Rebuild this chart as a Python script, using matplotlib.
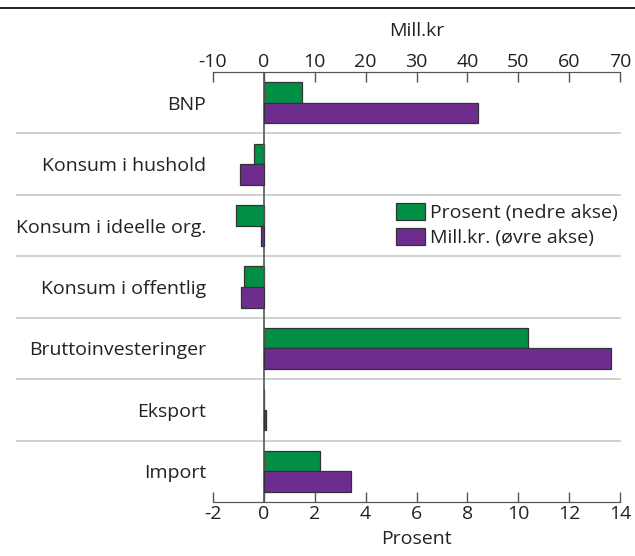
import matplotlib.pyplot as plt
from matplotlib.lines import Line2D
from matplotlib.patches import Patch

plt.rcParams['font.family'] = ['Open Sans', 'DejaVu Sans']
plt.rcParams['font.size'] = 14
plt.rcParams['axes.unicode_minus'] = False

categories = ["BNP", "Konsum i hushold", "Konsum i ideelle org.", "Konsum i offentlig",
              "Bruttoinvesteringer", "Eksport", "Import"]
prosent = [1.5, -0.4, -1.1, -0.8, 10.4, 0.02, 2.2]
mill_kr = [42.1, -4.7, -0.6, -4.5, 68.2, 0.5, 17.1]

green = "#008f45"
purple = "#6f2c8f"
txt = "#222222"

fig = plt.figure(figsize=(6.35, 5.56), dpi=100)
ax = fig.add_axes([213/635, 1-502/556, 407/635, 430/556])
ax2 = ax.twiny()

y = list(range(len(categories)))
h = 0.335
ax.barh([i - h/2 for i in y], prosent, height=h, color=green, edgecolor="#333333", linewidth=0.9, zorder=3)
ax2.barh([i + h/2 for i in y], mill_kr, height=h, color=purple, edgecolor="#333333", linewidth=0.9, zorder=3)

ax.set_xlim(-2, 14)
ax2.set_xlim(-10, 70)
ax.set_ylim(len(categories) - 0.5, -0.5)

ax.set_xticks(range(-2, 15, 2))
ax2.set_xticks(range(-10, 71, 10))
ax.set_yticks(y)
ax.set_yticklabels(categories, color=txt)
ax.tick_params(axis='y', length=0, pad=5)
ax.tick_params(axis='x', direction='in', length=7, width=1, color='#555555', labelcolor=txt, pad=2)
ax2.tick_params(axis='x', direction='in', length=7, width=1, color='#555555', labelcolor=txt, pad=1)

for a in (ax, ax2):
    a.spines['left'].set_visible(False)
    a.spines['right'].set_visible(False)
    a.spines['top'].set_color('#555555')
    a.spines['bottom'].set_color('#555555')

for i in range(len(categories) - 1):
    ax.axhline(i + 0.5, xmin=-0.482, xmax=1, color='#c8c8c8', lw=1.2, clip_on=False, zorder=1)

ax.axvline(0, color='#555555', lw=1.2, zorder=4)

ax.set_xlabel("Prosent", color=txt, labelpad=5)
ax2.set_xlabel("Mill.kr", color=txt, labelpad=12)

handles = [Patch(facecolor=green, edgecolor="#333333", linewidth=0.9),
           Patch(facecolor=purple, edgecolor="#333333", linewidth=0.9)]
fig.legend(handles, ["Prosent (nedre akse)", "Mill.kr. (øvre akse)"],
           loc='upper left', bbox_to_anchor=(386/635, 1-193/556), frameon=False,
           handlelength=1.5, handleheight=1.0, handletextpad=0.25, labelspacing=0.3,
           borderpad=0, labelcolor=txt)

fig.add_artist(Line2D([0, 1], [1-8/556, 1-8/556], color='black', lw=1.2))

fig.savefig("out.png", dpi=100)
